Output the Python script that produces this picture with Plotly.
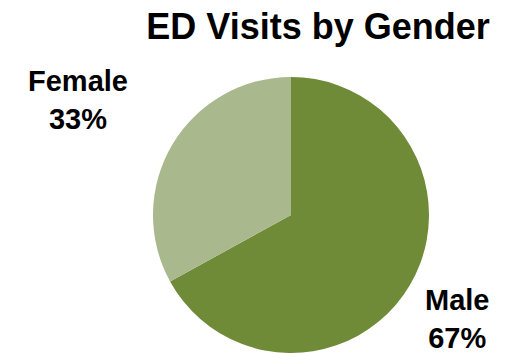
import plotly.graph_objects as go

labels = ["Male", "Female"]
values = [67, 33]
colors = ["#6F8B38", "#A9B98D"]
title_text = "ED Visits by Gender"

W, H = 519, 353

fig = go.Figure(go.Pie(
    labels=labels,
    values=values,
    sort=False,
    direction="clockwise",
    rotation=0,
    marker=dict(colors=colors, line=dict(width=0)),
    textinfo="none",
    hoverinfo="label+percent",
    showlegend=False,
    domain=dict(x=[153 / W, 429 / W], y=[0, 276 / H]),
))

total = sum(values)
# label block centres in pixels (x, y)
label_pos = {"Female": (77.5, 100.5), "Male": (457, 318.5)}
lab_font = dict(family="Liberation Sans, Arial, sans-serif", size=29, color="#000000", weight="bold")
for lab, val in zip(labels, values):
    x, y = label_pos[lab]
    fig.add_annotation(
        x=x / W, y=1 - y / H, xref="paper", yref="paper",
        text=f"{lab}<br>{round(100 * val / total)}%",
        showarrow=False, xanchor="center", yanchor="middle", font=lab_font,
    )

fig.update_layout(
    width=W, height=H,
    margin=dict(l=0, r=0, t=0, b=0),
    paper_bgcolor="#FFFFFF",
    plot_bgcolor="#FFFFFF",
    title=dict(
        text=title_text,
        x=318 / W, xanchor="center",
        y=1 - 26 / H, yanchor="middle",
        font=dict(family="Liberation Sans, Arial, sans-serif", size=36, color="#000000", weight="bold"),
    ),
)

fig.write_html("out.html")
